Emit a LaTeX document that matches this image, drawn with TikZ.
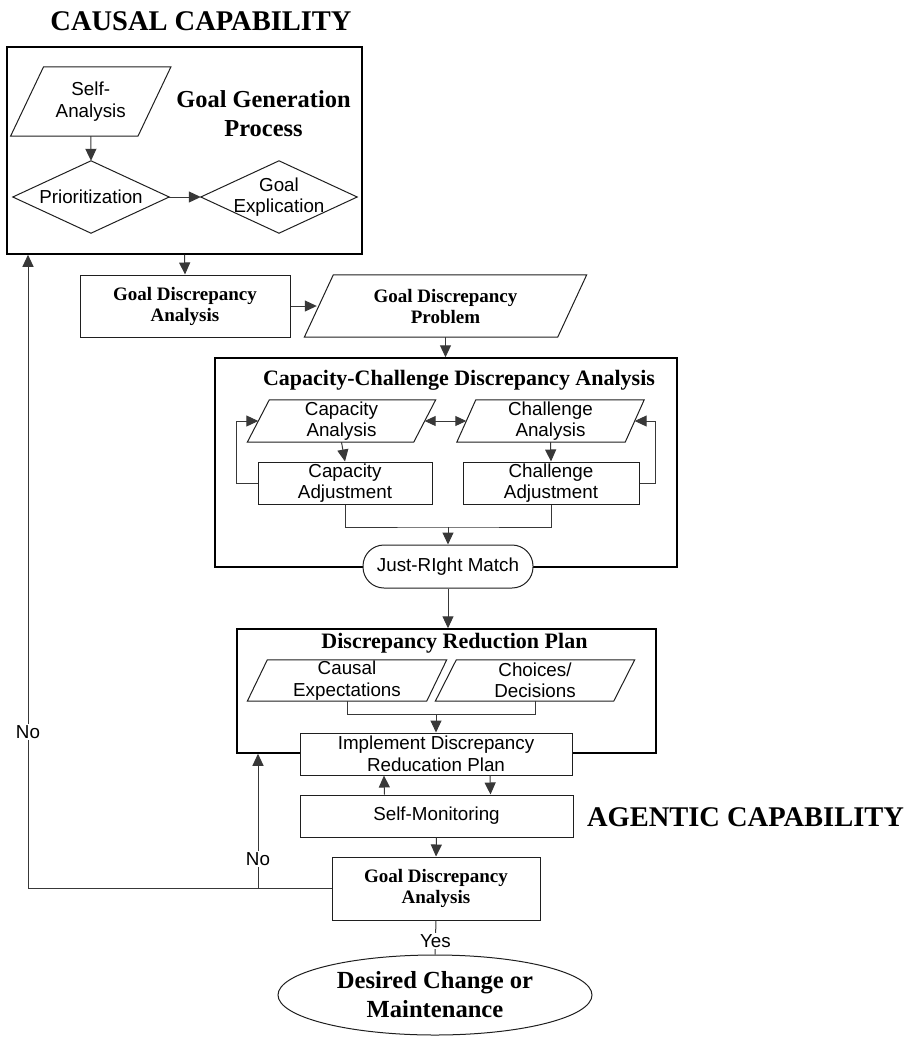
\documentclass[tikz,border=0pt]{standalone}
\usepackage{fontspec}
\setmainfont{Liberation Serif}
\setsansfont{Liberation Sans}
\usetikzlibrary{arrows.meta,shapes.geometric}
\newcommand\paranode[6]{% name, position, width, height, half slant, text
  \node[paratext, minimum width=#3, minimum height=#4] (#1) at (#2) {#6};
  \draw[shapeline] ([xshift=-#5]#1.south west) -- ([xshift=-#5]#1.south east)
    -- ([xshift=#5]#1.north east) -- ([xshift=#5]#1.north west) -- cycle;
}
\newcommand\diamondnode[5]{% name, position, width, height, text
  \node[paratext, minimum width=#3, minimum height=#4] (#1) at (#2) {#5};
  \draw[shapeline] (#1.north) -- (#1.east) -- (#1.south) -- (#1.west) -- cycle;
}
\begin{document}
\begin{tikzpicture}[x=1pt,y=-1pt,
  sanstext/.style={font=\sffamily\fontsize{18.8}{21.5}\selectfont},
  boldtext/.style={font=\bfseries\fontsize{19}{21}\selectfont},
  bigtitle/.style={font=\bfseries\fontsize{28.5}{34}\selectfont, inner sep=0pt},
  boxtitle/.style={font=\bfseries\fontsize{22}{26}\selectfont, inner sep=0pt},
  shapeline/.style={draw=black!88, line width=1pt},
  paratext/.style={sanstext, align=center, inner sep=0pt},
  rectbox/.style={draw=black!88, line width=1pt, fill=white, align=center, inner sep=0pt},
  container/.style={draw=black, line width=1.5pt, inner sep=0pt},
  conn/.style={draw=black!78, line width=1pt},
  arr/.style={conn, -{Triangle[length=12pt,width=11pt]}},
  lbl/.style={sanstext, fill=white, inner sep=1.5pt}
]
\useasboundingbox (0,0) rectangle (910,1037);

% titles
\node[bigtitle, anchor=base] (causal) at (201,30) {CAUSAL CAPABILITY};
\node[bigtitle, anchor=base] (agentic) at (745.5,826) {AGENTIC CAPABILITY};

% Goal generation process container
\node[container, minimum width=355pt, minimum height=207pt] (GGP) at (184.5,150.5) {};
\node[font=\bfseries\fontsize{24.4}{29}\selectfont, align=center, inner sep=0pt] (ggptitle) at (263.5,114) {Goal Generation\\Process};
\paranode{SA}{90.75,101.5}{127pt}{69pt}{16.5pt}{Self-\\Analysis}
\diamondnode{Prio}{91,197}{156pt}{72pt}{Prioritization}
\diamondnode{GE}{279,197}{156pt}{72pt}{Goal\\Explication}

% Goal discrepancy analysis / problem
\node[rectbox, boldtext, minimum width=210pt, minimum height=62pt] (GDA1) at (185,306) {Goal Discrepancy\\Analysis};
\node[paratext, boldtext, minimum width=253pt, minimum height=62pt] (GDP) at (445.5,306) {Goal Discrepancy\\Problem};
\draw[shapeline] ([xshift=-14.5pt]GDP.south west) -- ([xshift=-14.5pt]GDP.south east)
    -- ([xshift=14.5pt]GDP.north east) -- ([xshift=14.5pt]GDP.north west) -- cycle;

% Capacity-challenge container
\node[container, minimum width=462pt, minimum height=209pt] (CCDA) at (446,462.5) {};
\node[boxtitle, anchor=base] (ccdatitle) at (459,385) {Capacity-Challenge Discrepancy Analysis};
\paranode{CA}{341.5,421}{166pt}{42pt}{11pt}{Capacity\\Analysis}
\paranode{ChA}{550.5,421}{168pt}{42pt}{9.5pt}{Challenge\\Analysis}
\node[rectbox, sanstext, minimum width=174pt, minimum height=42pt] (CAdj) at (345,483) {Capacity\\Adjustment};
\node[rectbox, sanstext, minimum width=176pt, minimum height=42pt] (ChAdj) at (551,483) {Challenge\\Adjustment};
\node[rectbox, sanstext, rounded corners=21pt, minimum width=170pt, minimum height=43pt] (JRM) at (448,566.5) {Just-RIght Match};

% Discrepancy reduction plan container
\node[container, minimum width=419pt, minimum height=124pt] (DRP) at (446.5,691) {};
\node[boxtitle, anchor=base] (drptitle) at (454.5,648) {Discrepancy Reduction Plan};
\paranode{CE}{347,680.5}{179pt}{41pt}{10pt}{Causal\\Expectations}
\paranode{CD}{535,680.5}{178pt}{41pt}{10.5pt}{Choices/\\Decisions}
\node[rectbox, sanstext, minimum width=272pt, minimum height=42pt] (Impl) at (436,754) {Implement Discrepancy\\Reducation Plan};
\node[rectbox, sanstext, minimum width=273pt, minimum height=42pt] (SM) at (436.5,816) {Self-Monitoring};
\node[rectbox, boldtext, minimum width=208pt, minimum height=63pt] (GDA2) at (436,888.5) {Goal Discrepancy\\Analysis};
\node[draw=black!88, line width=1pt, ellipse, inner sep=0pt, minimum width=314pt, minimum height=80pt,
      font=\bfseries\fontsize{24.6}{29}\selectfont, align=center] (Ell) at (435,995) {Desired Change or\\Maintenance};

% connectors
\draw[arr] (SA.south) -- (Prio.north);
\draw[arr] (Prio.east) -- (GE.west);
\draw[arr] (GGP.south) -- (GDA1.north);
\draw[arr] (GDA1.east) -- ([xshift=-2pt]GDP.west);
\draw[arr] (GDP.south) -- (GDP.south |- CCDA.north);
\draw[conn, {Triangle[length=11pt,width=10pt]}-{Triangle[length=11pt,width=10pt]}] (CA.east) -- (ChA.west);
\draw[arr] (CA.south) -- (CAdj.north);
\draw[arr] (ChA.south) -- (ChAdj.north);
\draw[arr] (CAdj.west) -- ++(-21,0) |- (CA.west);
\draw[arr] (ChAdj.east) -- ++(16,0) |- (ChA.east);
\coordinate (m1) at (448,527);
\draw[conn] (CAdj.south) |- (m1) -| (ChAdj.south);
\draw[arr] (m1) -- (JRM.north);
\draw[arr] (JRM.south) -- (JRM.south |- DRP.north);
\coordinate (m2) at (436,714);
\draw[conn] (CE.south) |- (m2) -| (CD.south);
\draw[arr] (m2) -- (Impl.north);
\draw[arr] ([xshift=-52pt]SM.north) -- ([xshift=-52pt]Impl.south);
\draw[arr] ([xshift=54pt]Impl.south) -- ([xshift=54pt]SM.north);
\draw[arr] (SM.south) -- (GDA2.north);
\coordinate (L) at (28,888.5);
\draw[arr] (GDA2.west) -- (L) -- (L |- GGP.south);
\node[lbl] (no1) at (28,732) {No};
\coordinate (B) at (258,888.5);
\draw[arr] (B) -- (B |- DRP.south);
\node[lbl] (no2) at (258,859) {No};
\draw[conn] (GDA2.south) -- (Ell.north) node[lbl, pos=0.6] (yes) {Yes};
\end{tikzpicture}
\end{document}
